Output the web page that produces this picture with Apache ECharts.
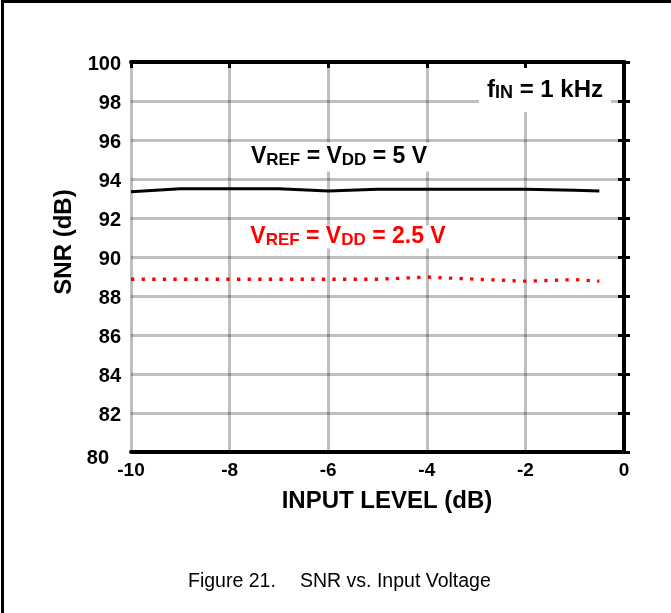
<!DOCTYPE html>
<html>
<head>
<meta charset="utf-8">
<script src="https://cdn.jsdelivr.net/npm/echarts@6/dist/echarts.min.js"></script>
<style>
  html, body { margin: 0; padding: 0; background: #fff; }
  #main { width: 671px; height: 613px; }
</style>
</head>
<body>
<div id="main"></div>
<script>
// data
var inputLevel = [-10, -9, -8, -7, -6, -5, -4, -3, -2, -1, -0.5];
var snr5V = [93.35, 93.5, 93.5, 93.5, 93.38, 93.48, 93.48, 93.48, 93.48, 93.42, 93.38];
var snr25V = [88.86, 88.86, 88.86, 88.86, 88.86, 88.86, 88.97, 88.86, 88.76, 88.84, 88.76];
var xTicks = [-10, -8, -6, -4, -2, 0];
var yTicks = [80, 82, 84, 86, 88, 90, 92, 94, 96, 98, 100];

var FONT = '"Liberation Sans", Arial, sans-serif';

function pairs(xs, ys) {
    return xs.map(function (x, i) { return [x, ys[i]]; });
}

var chartDom = document.getElementById('main');
var myChart = echarts.init(chartDom);

var gridLine = { show: true, lineStyle: { color: 'rgba(0,0,0,0.25)', width: 3 } };
var frameLine = { show: true, lineStyle: { color: '#000', width: 4 } };
var tickIn = { show: true, inside: true, length: 6, lineStyle: { color: '#000', width: 3 } };
var xLabel = { color: '#000', fontFamily: FONT, fontWeight: 'bold', fontSize: 19 };
var yLabel = { color: '#000', fontFamily: FONT, fontWeight: 'bold', fontSize: 20 };

// rich text style pieces for the annotations (small caps subscripts)
function annRich(color, big, small) {
    return {
        b: { fontFamily: FONT, fontWeight: 'bold', fontSize: big, color: color, fill: color, verticalAlign: 'bottom' },
        s: { fontFamily: FONT, fontWeight: 'bold', fontSize: small, color: color, fill: color, verticalAlign: 'bottom' }
    };
}

var option = {
    animation: false,
    backgroundColor: '#fff',
    grid: { left: 131, right: 47, top: 62, bottom: 161 },
    xAxis: [
        {
            type: 'value', position: 'bottom',
            min: xTicks[0], max: xTicks[xTicks.length - 1], interval: 2,
            axisLine: frameLine, axisTick: { show: false },
            splitLine: gridLine,
            axisLabel: Object.assign({ margin: 9 }, xLabel)
        },
        {
            type: 'value', position: 'top',
            min: xTicks[0], max: xTicks[xTicks.length - 1], interval: 2,
            axisLine: frameLine, axisTick: tickIn,
            splitLine: { show: false }, axisLabel: { show: false }
        }
    ],
    yAxis: [
        {
            type: 'value', position: 'left',
            min: yTicks[0], max: yTicks[yTicks.length - 1], interval: 2,
            axisLine: frameLine, axisTick: tickIn,
            splitLine: gridLine,
            axisLabel: Object.assign({
                margin: 10,
                formatter: function (v) {
                    return v === yTicks[0] ? '{low|' + v + '}' : '{n|' + v + '}';
                },
                rich: {
                    n: Object.assign({ padding: [4, 0, 0, 0] }, yLabel),
                    low: Object.assign({ padding: [12, 12, 0, 0] }, yLabel)
                }
            }, yLabel)
        },
        {
            type: 'value', position: 'right',
            min: yTicks[0], max: yTicks[yTicks.length - 1], interval: 2,
            axisLine: frameLine, axisTick: tickIn,
            splitLine: { show: false }, axisLabel: { show: false }
        }
    ],
    series: [
        {
            name: 'VREF = VDD = 5 V',
            type: 'line',
            data: pairs(inputLevel, snr5V),
            showSymbol: false,
            lineStyle: { color: '#000', width: 3 },
            z: 5
        },
        {
            name: 'VREF = VDD = 2.5 V',
            type: 'line',
            data: pairs(inputLevel, snr25V),
            showSymbol: false,
            lineStyle: { color: '#ff0000', width: 3.3, type: [3.3, 7.3], cap: 'butt' },
            z: 5
        }
    ],
    graphic: [
        // outer figure frame (only top and left edges are visible)
        {
            type: 'polyline', silent: true,
            shape: { points: [[2.5, 613], [2.5, 1.5], [671, 1.5]] },
            style: { stroke: '#000', lineWidth: 3, fill: null }
        },
        // axis names
        {
            type: 'text', x: 387, y: 501,
            style: {
                text: 'INPUT LEVEL (dB)', fill: '#000',
                font: 'bold 24px ' + FONT,
                align: 'center', verticalAlign: 'middle',
                textAlign: 'center', textVerticalAlign: 'middle'
            }
        },
        {
            type: 'text', x: 64, y: 242, rotation: Math.PI / 2,
            style: {
                text: 'SNR (dB)', fill: '#000',
                font: 'bold 24px ' + FONT,
                align: 'center', verticalAlign: 'middle',
                textAlign: 'center', textVerticalAlign: 'middle'
            }
        },
        // annotations
        {
            type: 'text', x: 545, y: 90, z: 20,
            style: {
                text: '{b|f}{s|IN}{b| = 1 kHz}',
                backgroundColor: '#fff', padding: [10, 8, 10, 8],
                align: 'center', verticalAlign: 'middle',
                textAlign: 'center', textVerticalAlign: 'middle',
                rich: annRich('#000', 24, 18)
            }
        },
        {
            type: 'text', x: 339, y: 157, z: 20,
            style: {
                text: '{b|V}{s|REF}{b| = V}{s|DD}{b| = 5 V}',
                backgroundColor: '#fff', padding: [3, 8, 3, 8],
                align: 'center', verticalAlign: 'middle',
                textAlign: 'center', textVerticalAlign: 'middle',
                rich: annRich('#000', 23, 17)
            }
        },
        {
            type: 'text', x: 348, y: 237, z: 20,
            style: {
                text: '{b|V}{s|REF}{b| = V}{s|DD}{b| = 2.5 V}',
                backgroundColor: '#fff', padding: [0, 8, 0, 8],
                align: 'center', verticalAlign: 'middle',
                textAlign: 'center', textVerticalAlign: 'middle',
                rich: annRich('#ff0000', 23, 17)
            }
        },
        // caption
        {
            type: 'text', x: 188, y: 582,
            style: {
                text: 'Figure 21.', fill: '#000',
                font: '19.5px ' + FONT,
                align: 'left', verticalAlign: 'middle',
                textAlign: 'left', textVerticalAlign: 'middle'
            }
        },
        {
            type: 'text', x: 300, y: 582,
            style: {
                text: 'SNR vs. Input Voltage', fill: '#000',
                font: '19.5px ' + FONT,
                align: 'left', verticalAlign: 'middle',
                textAlign: 'left', textVerticalAlign: 'middle'
            }
        }
    ]
};

myChart.setOption(option);
</script>
</body>
</html>
